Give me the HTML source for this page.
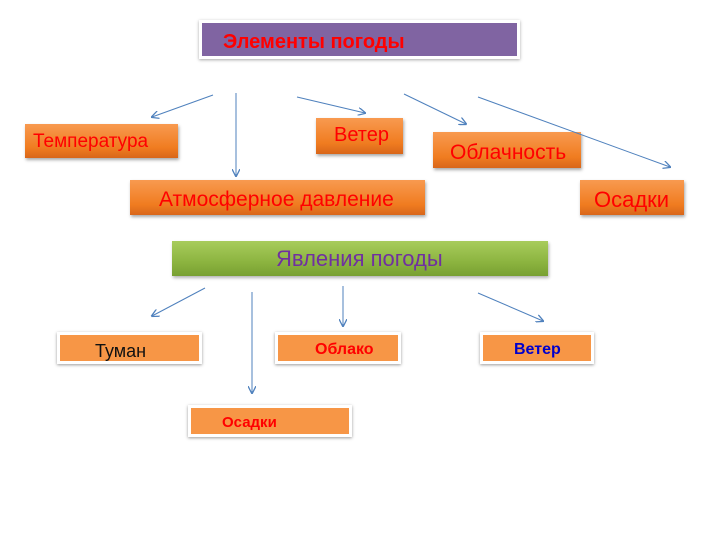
<!DOCTYPE html>
<html><head><meta charset="utf-8"><style>
body{margin:0;width:720px;height:540px;background:#fff;position:relative;overflow:hidden;font-family:"Liberation Sans",sans-serif}
.b{position:absolute;box-sizing:border-box;white-space:nowrap}
.o{background:linear-gradient(#f89a50,#f07c20 70%,#d8661a);box-shadow:1px 2px 3px rgba(0,0,0,.35);color:#f00;font-size:20px;line-height:1}
.w{background:#f79646;border:3px solid #fff;box-shadow:0 1px 3px rgba(0,0,0,.4);font-size:15px;line-height:1}
</style></head><body>
<div class="b" style="left:199px;top:20px;width:321px;height:39px;background:#8064a2;border:3px solid #fff;box-shadow:0 1px 3px rgba(0,0,0,.35);color:#f00;font-size:20px;font-weight:bold;line-height:1;padding:9px 0 0 21px">Элементы погоды</div>
<div class="b o" style="left:25px;top:124px;width:153px;height:34px;padding:8px 0 0 8px;font-size:19px">Температура</div>
<div class="b o" style="left:316px;top:118px;width:87px;height:36px;padding:7px 0 0 18px">Ветер</div>
<div class="b o" style="left:433px;top:132px;width:148px;height:36px;padding:10px 0 0 17px;font-size:21px">Облачность</div>
<div class="b o" style="left:130px;top:180px;width:295px;height:35px;padding:9px 0 0 29px;font-size:21px">Атмосферное давление</div>
<div class="b o" style="left:580px;top:180px;width:104px;height:35px;padding:9px 0 0 14px;font-size:22px">Осадки</div>
<div class="b" style="left:172px;top:241px;width:376px;height:35px;background:linear-gradient(#a8cc5c,#8cb440 60%,#78a032);box-shadow:1px 2px 3px rgba(0,0,0,.3);color:#7030a0;font-size:22px;line-height:1;padding:7px 0 0 104px">Явления погоды</div>
<div class="b w" style="left:57px;top:332px;width:145px;height:32px;padding:7px 0 0 35px;color:#111;font-size:18px">Туман</div>
<div class="b w" style="left:275px;top:332px;width:126px;height:32px;padding:7px 0 0 37px;color:#f00;font-weight:bold;font-size:16px">Облако</div>
<div class="b w" style="left:480px;top:332px;width:114px;height:32px;padding:7px 0 0 31px;color:#00c;font-weight:bold;font-size:16px">Ветер</div>
<div class="b w" style="left:188px;top:405px;width:164px;height:32px;padding:7px 0 0 31px;color:#f00;font-weight:bold;font-size:15px">Осадки</div>
<svg width="720" height="540" style="position:absolute;left:0;top:0">
<defs><marker id="a" markerWidth="8" markerHeight="8" refX="7" refY="4" orient="auto" markerUnits="userSpaceOnUse"><path d="M0,0 L8,4 L0,8" fill="none" stroke="#4f81bd" stroke-width="1.3"/></marker></defs>
<g stroke="#4f81bd" stroke-width="1" marker-end="url(#a)">
<line x1="213" y1="95" x2="152" y2="117"/>
<line x1="236" y1="93" x2="236" y2="176"/>
<line x1="297" y1="97" x2="365" y2="113"/>
<line x1="404" y1="94" x2="466" y2="124"/>
<line x1="478" y1="97" x2="670" y2="167"/>
<line x1="205" y1="288" x2="152" y2="316"/>
<line x1="252" y1="292" x2="252" y2="393"/>
<line x1="343" y1="286" x2="343" y2="326"/>
<line x1="478" y1="293" x2="543" y2="321"/>
</g></svg>
</body></html>
